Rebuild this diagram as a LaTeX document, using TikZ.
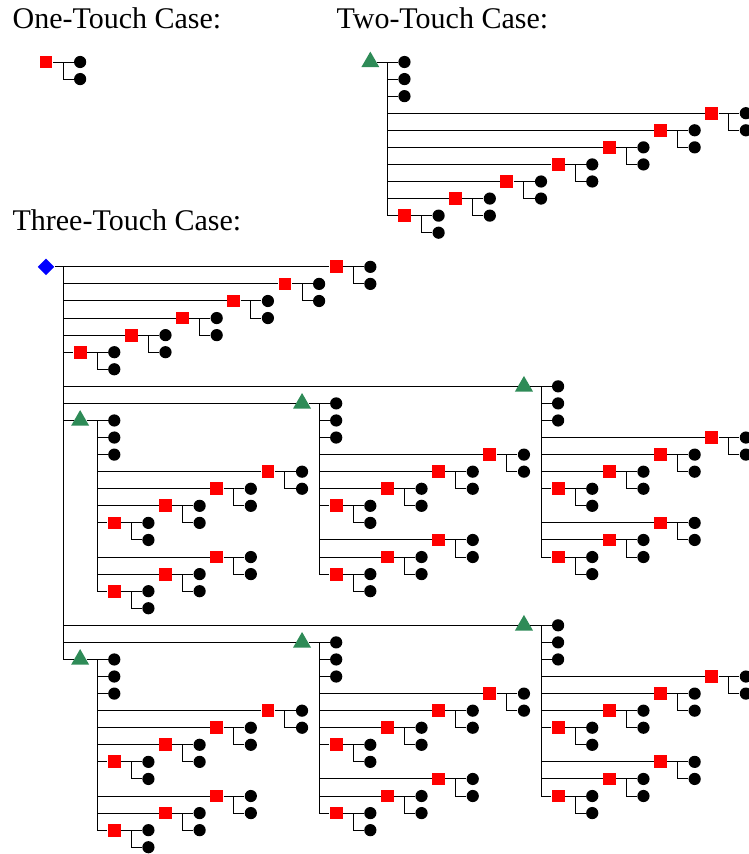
\documentclass[tikz,border=0pt]{standalone}
\usepackage{fontspec}
\setmainfont{Liberation Serif}
\usetikzlibrary{shapes.geometric}

% one red square with its two balls
\newcommand\onetouch[3]{%
 \node[redsq] (#1) at (#2,#3) {};
 \coordinate (#1-j) at (#2+1,#3);
 \node[ball] (#1-a) at (#2+2,#3) {};
 \node[ball] (#1-b) at (#2+2,#3+1) {};
 \draw[wire] (#1) -- (#1-a);
 \draw[wire] (#1-j) |- (#1-b);}

% staircase of squares hanging from a trunk
\newcommand\stair[5]{%
 \foreach \j in {1,...,#5}{%
  \onetouch{#2\j}{#3+3*\j-3}{#4-\j+1}
  \draw[wire] (#1 |- #2\j) -- (#2\j);}}

% green triangle with its three balls
\newcommand\twohead[3]{%
 \node[greentri] (#1) at (#2,#3) {};
 \coordinate (#1-j) at (#2+1,#3);
 \draw[wire] (#1) -- (#1-j);
 \foreach \k in {0,1,2}{%
  \node[ball] (#1-c\k) at (#2+2,#3+\k) {};
  \draw[wire] (#1-j |- #1-c\k) -- (#1-c\k);}}

\begin{document}
\begin{tikzpicture}[x=0.3cm,y=-0.3cm,font=\fontsize{15}{18}\selectfont]
\definecolor{cred}{HTML}{FF0000}\definecolor{cgreen}{HTML}{2E8B57}\definecolor{cblue}{HTML}{0000FF}
\tikzset{wire/.style={line width=0.5pt,draw=black},
 redsq/.style={rectangle,fill=cred,minimum size=6.4pt,inner sep=0pt},
 ball/.style={circle,fill=black,minimum size=6.1pt,inner sep=0pt},
 greentri/.style={regular polygon,regular polygon sides=3,fill=cgreen,minimum size=10.4pt,inner sep=0pt},
 bluedia/.style={diamond,fill=cblue,minimum width=8.4pt,minimum height=8.4pt,inner sep=0pt},
 casetitle/.style={anchor=base west,inner sep=0pt}}
\useasboundingbox (-2.695,-3.632) rectangle (41.125,46.397);
\node[casetitle] (one-title) at (-1.98,-1.97) {One-Touch Case:};
\node[casetitle] (two-title) at (17.0,-1.97) {Two-Touch Case:};
\node[casetitle] (three-title) at (-1.98,9.88) {Three-Touch Case:};
\onetouch{one}{0}{0}
\twohead{two}{19}{0}
\stair{two-j}{two-s}{21}{9}{7}
\draw[wire] (two-j) |- (two-s1);
\node[bluedia] (three) at (0,12) {};
\coordinate (three-j) at (1,12);
\draw[wire] (three) -- (three-j);
\stair{three-j}{three-s}{2}{17}{6}
\foreach \n/\cx/\cy in {1/28/19,2/15/20,3/2/21,4/28/33,5/15/34,6/2/35}{%
 \twohead{three-t\n}{\cx}{\cy}
 \draw[wire] (three-j |- three-t\n) -- (three-t\n);
 \stair{three-t\n-j}{three-t\n-p}{\cx+2}{\cy+6}{4}
 \stair{three-t\n-j}{three-t\n-q}{\cx+2}{\cy+10}{3}
 \draw[wire] (three-t\n-j) |- (three-t\n-q1);}
\draw[wire] (three-j) |- (three-t6);
\end{tikzpicture}
\end{document}
